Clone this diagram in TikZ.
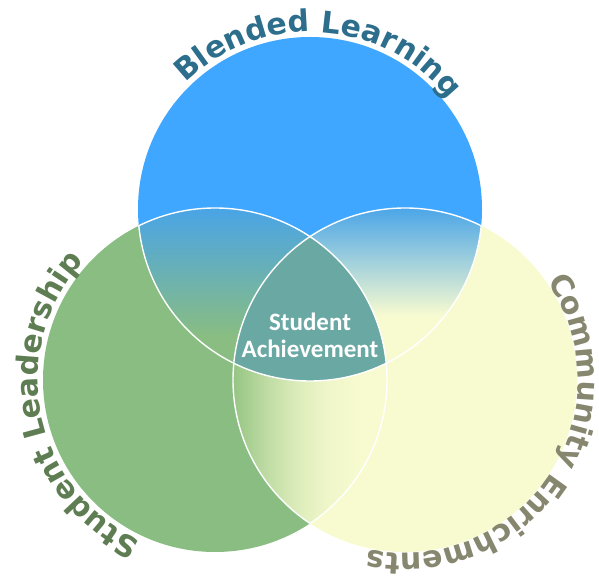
\documentclass[tikz,border=0pt]{standalone}
\usepackage{fontspec}
\newfontfamily\arcfont{DejaVu Sans}
\newfontfamily\corefont{Carlito}
\usetikzlibrary{decorations.text}

\definecolor{bluefill}{RGB}{63,167,255}
\definecolor{greenfill}{RGB}{137,189,130}
\definecolor{yellowfill}{RGB}{248,251,208}
\definecolor{tealfill}{RGB}{106,168,163}
\definecolor{lensblue}{RGB}{72,164,232}
\definecolor{lensgreen}{RGB}{150,197,132}
\definecolor{blueink}{RGB}{44,110,140}
\definecolor{greenink}{RGB}{94,125,82}
\definecolor{yellowink}{RGB}{135,135,112}

% green easing into yellow, quick at first and gentle towards the end
\pgfdeclarehorizontalshading{greenfade}{100bp}{%
  color(0bp)=(lensgreen); color(25bp)=(lensgreen);
  color(39bp)=(lensgreen!55!yellowfill);
  color(51bp)=(lensgreen!25!yellowfill);
  color(62bp)=(lensgreen!8!yellowfill);
  color(75bp)=(yellowfill); color(100bp)=(yellowfill)}

\begin{document}
\begin{tikzpicture}[x=1pt,y=1pt,
  divider/.style={draw=white, line width=1.4pt},
  arclabel/.style 2 args={decorate, decoration={text along path, text align=center,
      text color=#1,
      text={|\arcfont\bfseries\fontsize{30}{32}\selectfont|#2}}},
  corelabel/.style={font=\corefont\bfseries\fontsize{25}{27}\selectfont, text=white, align=center}
]
\useasboundingbox (0,0) rectangle (599,578);
\def\R{172pt}

% circle centres
\coordinate (B) at (310,369);
\coordinate (G) at (215,198);
\coordinate (Y) at (405,198);

% the three sets
\fill[bluefill] (B) circle[radius=\R];
\fill[greenfill] (G) circle[radius=\R];
\fill[yellowfill] (Y) circle[radius=\R];

% blended learning / leadership overlap: blue fading down into green
\begin{scope}
  \clip (B) circle[radius=\R];
  \clip (G) circle[radius=\R];
  \shade[top color=lensblue, bottom color=greenfill, middle color=greenfill]
    (100,372) rectangle (420,112);
\end{scope}

% blended learning / community overlap: blue fading down into yellow
\begin{scope}
  \clip (B) circle[radius=\R];
  \clip (Y) circle[radius=\R];
  \shade[top color=lensblue, bottom color=yellowfill, middle color=yellowfill]
    (200,372) rectangle (560,152);
\end{scope}

% leadership / community overlap: green fading right into yellow
\begin{scope}
  \clip (G) circle[radius=\R];
  \clip (Y) circle[radius=\R];
  \shade[shading=greenfade] (233,40) rectangle (363,380);
\end{scope}

% common core
\begin{scope}
  \clip (B) circle[radius=\R];
  \clip (G) circle[radius=\R];
  \fill[tealfill] (Y) circle[radius=\R];
\end{scope}

% white dividers inside the overlaps
\begin{scope}
  \clip (G) circle[radius=\R] (Y) circle[radius=\R];
  \draw[divider] (B) circle[radius=\R];
\end{scope}
\begin{scope}
  \clip (B) circle[radius=\R] (Y) circle[radius=\R];
  \draw[divider] (G) circle[radius=\R];
\end{scope}
\begin{scope}
  \clip (B) circle[radius=\R] (G) circle[radius=\R];
  \draw[divider] (Y) circle[radius=\R];
\end{scope}

% curved titles
\path[arclabel={blueink}{Blended Learning}]
  (B) ++(176.5:177pt) arc[start angle=176.5, end angle=-3.5, radius=177pt];
\path[arclabel={greenink}{Student Leadership}]
  (G) ++(281.5:177pt) arc[start angle=281.5, end angle=101.5, radius=177pt];
\path[arclabel={yellowink}{Community Enrichments}]
  (Y) ++(56.3:173pt) arc[start angle=56.3, end angle=-123.7, radius=173pt];

% centre label
\node[corelabel] (core) at (310,243) {Student\\Achievement};
\end{tikzpicture}
\end{document}
